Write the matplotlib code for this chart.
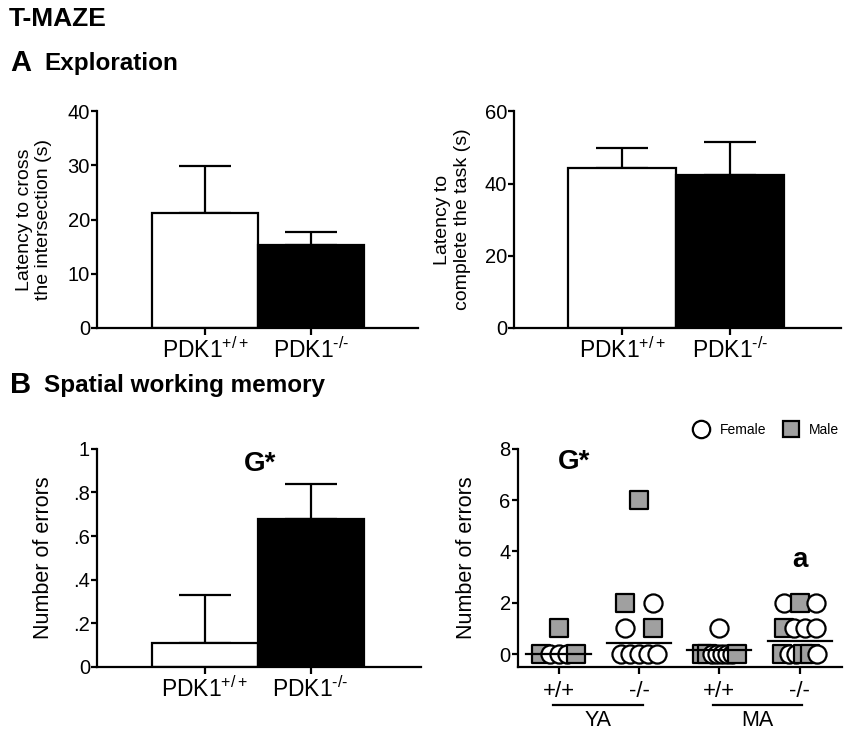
import matplotlib
matplotlib.use("Agg")
import matplotlib.pyplot as plt
import numpy as np
from matplotlib.lines import Line2D

plt.rcParams['font.family'] = ['Liberation Sans', 'DejaVu Sans']
plt.rcParams['mathtext.fontset'] = 'custom'
plt.rcParams['mathtext.rm'] = 'Liberation Sans'
plt.rcParams['mathtext.it'] = 'Liberation Sans'
plt.rcParams['mathtext.bf'] = 'Liberation Sans:bold'

# panel A / B bar data
genotypes = ['PDK1$^{+/+}$', 'PDK1$^{\u2010/\u2010}$']
cross_mean = [21.2, 15.4]
cross_sem = [8.7, 2.3]
task_mean = [44.4, 42.3]
task_sem = [5.4, 9.2]
errors_mean = [0.11, 0.68]
errors_sem = [0.22, 0.16]

# panel B scatter data (errors per animal, sex)
groups = ['+/+', '-/-', '+/+', '-/-']
ya_wt_err = [0, 0, 0, 0, 0, 1]
ya_wt_sex = ['M', 'F', 'F', 'F', 'M', 'M']
ya_ko_err = [0, 0, 0, 0, 0, 1, 1, 2, 2, 6]
ya_ko_sex = ['F', 'F', 'F', 'F', 'F', 'F', 'M', 'M', 'F', 'M']
ma_wt_err = [0, 0, 0, 0, 0, 0, 0, 0, 1]
ma_wt_sex = ['M', 'M', 'F', 'F', 'F', 'F', 'F', 'M', 'F']
ma_ko_err = [0, 0, 0, 0, 0, 0, 1, 1, 1, 1, 2, 2, 2]
ma_ko_sex = ['M', 'F', 'F', 'M', 'M', 'F', 'M', 'F', 'F', 'F', 'F', 'M', 'F']
group_lines = [0.0, 0.43, 0.17, 0.5]


def style_axes(ax, xsize):
    for s in ['top', 'right']:
        ax.spines[s].set_visible(False)
    for s in ['left', 'bottom']:
        ax.spines[s].set_linewidth(1.6)
    ax.tick_params(width=1.6, length=4, labelsize=14.5, pad=1)
    ax.tick_params(axis='x', length=5, labelsize=xsize)


def bar_panel(rect, means, sems, ylim, yticks, ylabel, ylabsize, xlim, lpad, yticklabels=None):
    ax = fig.add_axes(rect)
    x = np.arange(len(means))
    ax.bar(x, means, width=1.0, color=['white', 'black'], edgecolor='black',
           linewidth=1.6, zorder=2)
    ax.errorbar(x, means, yerr=[np.zeros(len(sems)), sems], fmt='none',
                ecolor='black', elinewidth=1.6, capsize=19, capthick=1.6, zorder=1)
    ax.set_xlim(*xlim)
    ax.set_ylim(*ylim)
    ax.set_yticks(yticks)
    if yticklabels is not None:
        ax.set_yticklabels(yticklabels)
    ax.set_xticks(x)
    ax.set_xticklabels(genotypes)
    ax.set_ylabel(ylabel, fontsize=ylabsize, labelpad=lpad)
    style_axes(ax, 16.5)
    ax.tick_params(axis='x', pad=2)
    return ax


fig = plt.figure(figsize=(8.5, 7.37), dpi=100)

fig.text(0.010, 0.991, 'T-MAZE', fontsize=19, fontweight='bold', va='top')
fig.text(0.012, 0.934, 'A', fontsize=21, fontweight='bold', va='top')
fig.text(0.052, 0.930, 'Exploration', fontsize=17.5, fontweight='bold', va='top')
fig.text(0.012, 0.497, 'B', fontsize=21, fontweight='bold', va='top')
fig.text(0.052, 0.493, 'Spatial working memory', fontsize=17.5, fontweight='bold', va='top')

bar_panel([0.114, 0.555, 0.378, 0.294], cross_mean, cross_sem, (0, 40), [0, 10, 20, 30, 40],
          'Latency to cross\nthe intersection (s)', 14, (-1.02, 2.01), 11)
bar_panel([0.605, 0.555, 0.384, 0.294], task_mean, task_sem, (0, 60), [0, 20, 40, 60],
          'Latency to\ncomplete the task (s)', 14, (-1.0, 2.02), 10)
axb = bar_panel([0.114, 0.095, 0.381, 0.296], errors_mean, errors_sem, (0, 1),
                [0, 0.2, 0.4, 0.6, 0.8, 1.0], 'Number of errors', 15.5, (-1.02, 2.04), 14,
                yticklabels=['0', '.2', '.4', '.6', '.8', '1'])
axb.text(0.52, 0.93, 'G*', fontsize=20, fontweight='bold', ha='center', va='center')

# scatter panel
ax = fig.add_axes([0.609, 0.095, 0.381, 0.296])
all_err = [ya_wt_err, ya_ko_err, ma_wt_err, ma_ko_err]
all_sex = [ya_wt_sex, ya_ko_sex, ma_wt_sex, ma_ko_sex]
spread = {1: 0.0, 2: 0.34, 3: 0.4, 4: 0.4}
for gi, (errs, sexes) in enumerate(zip(all_err, all_sex)):
    errs = np.array(errs)
    for val in np.unique(errs):
        idx = np.where(errs == val)[0]
        n = len(idx)
        w = spread.get(n, 0.44)
        xs = gi + np.linspace(-w / 2, w / 2, n)
        for xi, k in zip(xs, idx):
            if sexes[k] == 'M':
                ax.scatter(xi, val, marker='s', s=155, facecolor='#a0a0a0',
                           edgecolor='black', linewidth=1.6, zorder=2)
            else:
                ax.scatter(xi, val, marker='o', s=170, facecolor='white',
                           edgecolor='black', linewidth=1.6, zorder=2)
    ax.plot([gi - 0.4, gi + 0.4], [group_lines[gi]] * 2, color='black', lw=1.6, zorder=3)

ax.set_xlim(-0.51, 3.52)
ax.set_ylim(-0.5, 8)
ax.set_yticks([0, 2, 4, 6, 8])
ax.set_xticks(range(4))
ax.set_xticklabels(groups)
style_axes(ax, 16)
ax.set_ylabel('Number of errors', fontsize=15.5, labelpad=16)
ax.tick_params(axis='x', pad=5)
ax.text(0.19, 7.5, 'G*', fontsize=20, fontweight='bold', ha='center', va='center')
ax.text(3.0, 3.67, 'a', fontsize=20, fontweight='bold', ha='center', va='center')

trans = ax.get_xaxis_transform()
for (x0, x1), lab in zip([(-0.075, 1.05), (1.92, 3.03)], ['YA', 'MA']):
    ax.add_line(Line2D([x0, x1], [-0.174, -0.174], transform=trans, color='black',
                       lw=1.6, clip_on=False))
    ax.text((x0 + x1) / 2, -0.195, lab, transform=trans, fontsize=15.5, ha='center', va='top')

handles = [Line2D([], [], marker='o', ls='none', markersize=12.5, markerfacecolor='white',
                  markeredgecolor='black', markeredgewidth=1.6, label='Female'),
           Line2D([], [], marker='s', ls='none', markersize=11.5, markerfacecolor='#a0a0a0',
                  markeredgecolor='black', markeredgewidth=1.6, label='Male')]
ax.legend(handles=handles, loc='lower right', bbox_to_anchor=(1.01, 1.03), ncol=2,
          frameon=False, fontsize=10, handletextpad=0.3, columnspacing=0.8,
          borderaxespad=0)

fig.savefig('out.png', dpi=100)
